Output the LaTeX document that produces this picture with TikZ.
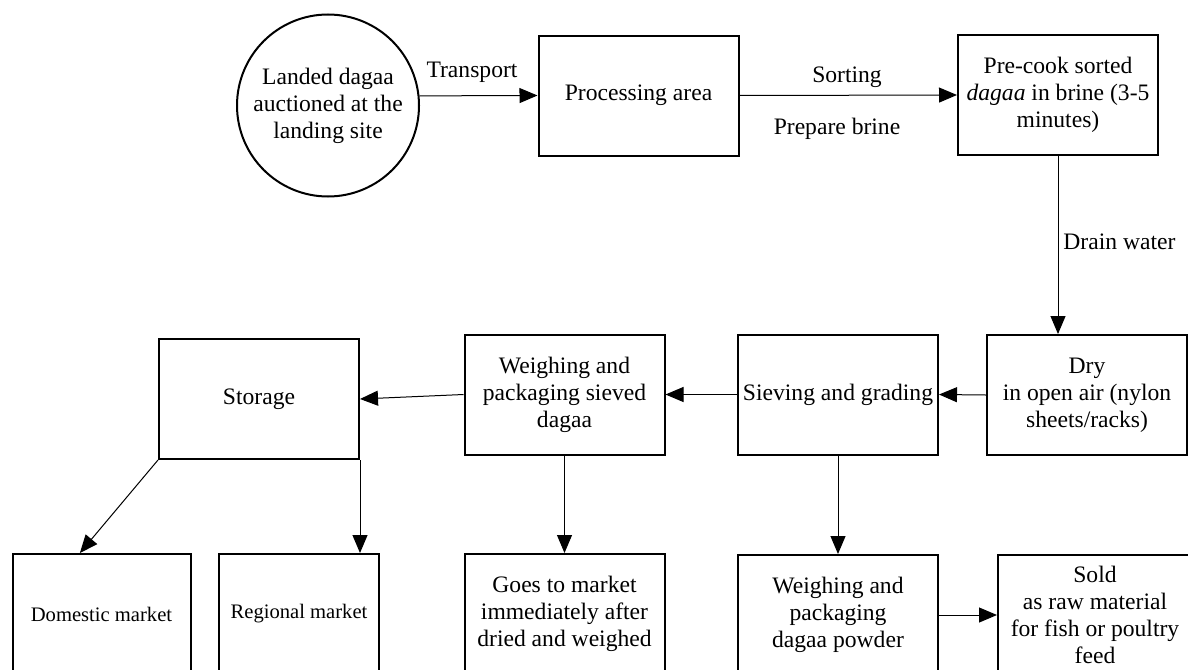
\documentclass[tikz,border=0pt]{standalone}
\usepackage{fontspec}
\setmainfont{Liberation Serif}
\usetikzlibrary{arrows.meta,calc}

\begin{document}
\begin{tikzpicture}[x=0.5pt, y=-0.5pt, font=\fontsize{11.8}{13.5}\selectfont]
\useasboundingbox (0,0) rectangle (1188,669);
\clip (0,0) rectangle (1188,669);

\coordinate (P1) at (328, 105.5);
\coordinate (P2) at (638.5, 95.5);
\coordinate (P3) at (1058, 95);
\coordinate (P4) at (1087, 395);
\coordinate (P5) at (838, 394.5);
\coordinate (P6) at (564.5, 394.5);
\coordinate (P7) at (259, 399);
\coordinate (P8) at (101.5, 614);
\coordinate (P9) at (299, 614);
\coordinate (P10) at (564.5, 614);
\coordinate (P11) at (838, 615);
\coordinate (P12) at (1095, 615);


\tikzset{BoxStyle/.style = {
 shape = rectangle,
 draw = black,
 line width = 1pt,
 align = center,
 inner sep = 2pt,
 minimum width = 100pt,
 minimum height = 60pt} }

\node[BoxStyle, shape = circle, minimum size = 91pt, inner sep = 0pt] (B1) at (P1)
 {Landed dagaa\\auctioned at the\\landing site};
\node[BoxStyle] (B2) at (P2) {Processing area};
\node[BoxStyle] (B3) at (P3) {Pre-cook sorted\\\emph{dagaa} in brine (3-5\\minutes)};
\node[BoxStyle] (B4) at (P4) {Dry\\in open air (nylon\\sheets/racks)};
\node[BoxStyle] (B5) at (P5) {Sieving and grading};
\node[BoxStyle] (B6) at (P6) {Weighing and\\packaging sieved\\dagaa};
\node[BoxStyle] (B7) at (P7) {Storage};
\node[BoxStyle, minimum width = 89pt, font = \fontsize{10.3}{12}\selectfont] (B8) at (P8) {Domestic market};
\node[BoxStyle, minimum width = 80pt, font = \fontsize{10.3}{12}\selectfont] (B9) at (P9) {Regional market};
\node[BoxStyle] (B10) at (P10) {Goes to market\\immediately after\\dried and weighed};
\node[BoxStyle] (B11) at (P11) {Weighing and\\packaging\\dagaa powder};
\node[BoxStyle, minimum width = 97pt] (B12) at (P12) {Sold\\as raw material\\for fish or poultry\\feed};


\node (L1) at (472, 72) {Transport};
\node (L2) at (847, 77) {Sorting};
\node (L3) at (837, 129) {Prepare brine};
\node[anchor = west, inner sep = 0pt] (L4) at (1063, 242) {Drain water};


\tikzset{EdgeStyle/.style = {line width = 0.5pt, -{Triangle[length=9pt, width=7.5pt]}} }

\draw[EdgeStyle] (B1.6) -- (B2.west);
\draw[EdgeStyle] (B2.east) -- (B3.west);
\draw[EdgeStyle] (B3.south) -- (B3.south |- B4.north);
\draw[EdgeStyle] (B4.west) -- (B5.east);
\draw[EdgeStyle] (B5.west) -- (B6.east);
\draw[EdgeStyle] (B6.west) -- (B7.east);
\draw[EdgeStyle] (B7.south west) -- ($(B8.north west)!0.38!(B8.north east)$);
\draw[EdgeStyle] (B7.south east) -- (B7.south east |- B9.north);
\draw[EdgeStyle] (B6.south) -- (B10.north);
\draw[EdgeStyle] (B5.south) -- (B11.north);
\draw[EdgeStyle] (B11.east) -- (B12.west);

\end{tikzpicture}
\end{document}
